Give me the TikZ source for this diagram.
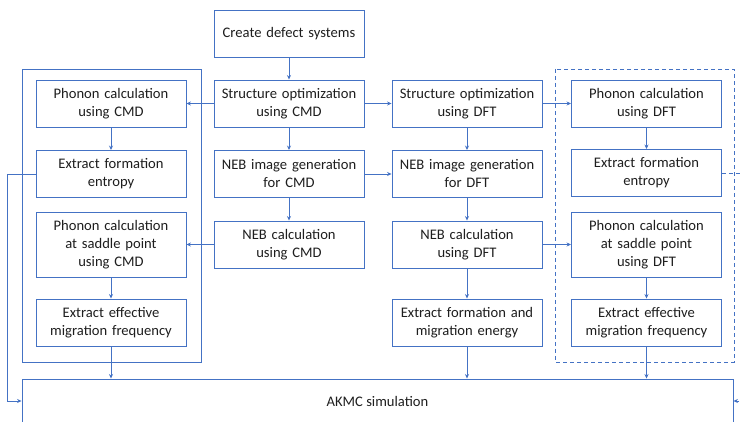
\documentclass[tikz,border=0pt]{standalone}
\usepackage{fontspec}
\setmainfont{Carlito}
\usepackage{tikz}
\usepackage{xcolor}
\usetikzlibrary{arrows.meta,calc,positioning}
\definecolor{wfBlue}{RGB}{68,114,196}
\definecolor{wfInk}{RGB}{30,30,30}
\begin{document}
\begin{tikzpicture}[x=1pt,y=-1pt,
  stepbox/.style={draw=wfBlue,line width=0.9pt,fill=white,text=wfInk,
    minimum width=150pt,minimum height=47pt,inner sep=0pt,
    text width=148pt,align=center,
    font=\fontsize{14.6}{18}\selectfont},
  tallbox/.style={stepbox,minimum height=65pt},
  link/.style={draw=wfBlue,line width=0.75pt,-{Stealth[length=4.5pt,width=4pt]}},
  group/.style={draw=wfBlue,line width=0.9pt}]
  \clip (0,0) rectangle (740,422);
  \draw[group] (22,69) rectangle (201,362);
  \draw[group,dashed,dash pattern=on 4pt off 3pt] (555,69) rectangle (734,362);
  \node[stepbox] (create) at (289,33.5) {Create defect systems};
  \node[stepbox] (scmd) at (289,103.5) {Structure optimization\\using CMD};
  \node[stepbox] (sdft) at (467,103.5) {Structure optimization\\using DFT};
  \node[stepbox] (ngcmd) at (289,174) {NEB image generation\\for CMD};
  \node[stepbox] (ngdft) at (467,174) {NEB image generation\\for DFT};
  \node[stepbox] (nccmd) at (289,244.5) {NEB calculation\\using CMD};
  \node[stepbox] (ncdft) at (467,244.5) {NEB calculation\\using DFT};
  \node[stepbox] (efm) at (467,322.5) {Extract formation and\\migration energy};
  \node[stepbox] (pcmd) at (111,103.5) {Phonon calculation\\using CMD};
  \node[stepbox] (ecmd) at (111,174) {Extract formation\\entropy};
  \node[tallbox] (spcmd) at (111,244.5) {Phonon calculation\\at saddle point\\using CMD};
  \node[stepbox] (mcmd) at (111,322.5) {Extract effective\\migration frequency};
  \node[stepbox] (pdft) at (646.5,103.5) {Phonon calculation\\using DFT};
  \node[stepbox] (edft) at (646.5,173) {Extract formation\\entropy};
  \node[tallbox] (spdft) at (646.5,244.5) {Phonon calculation\\at saddle point\\using DFT};
  \node[stepbox] (mdft) at (646.5,322.5) {Extract effective\\migration frequency};
  \node[draw=wfBlue,line width=0.9pt,minimum width=711pt,minimum height=64pt,
    inner sep=0pt] (akmc) at (377.5,411) {};
  \node[text=wfInk,font=\fontsize{14.6}{18}\selectfont] (akmctext) at (377.5,401) {AKMC simulation};
  \coordinate (lout) at (7,174);
  \coordinate (lin) at (7,401);
  \coordinate (rout) at (746,173);
  \coordinate (rin) at (746,401);
  \draw[link] (create) -- (scmd);
  \draw[link] (scmd.west) -- (scmd.west -| pcmd.east);
  \draw[link] (scmd) -- (sdft);
  \draw[link] (scmd) -- (ngcmd);
  \draw[link] (sdft) -- (ngdft);
  \draw[link] (sdft.east) -- (sdft.east -| pdft.west);
  \draw[link] (ngcmd) -- (ngdft);
  \draw[link] (ngcmd) -- (nccmd);
  \draw[link] (ngdft) -- (ncdft);
  \draw[link] (nccmd.west) -- (nccmd.west -| spcmd.east);
  \draw[link] (ncdft.east) -- (ncdft.east -| spdft.west);
  \draw[link] (ncdft) -- (efm);
  \draw[link] (pcmd) -- (ecmd);
  \draw[link] (spcmd) -- (mcmd);
  \draw[link] (pdft) -- (edft);
  \draw[link] (spdft) -- (mdft);
  \draw[link] (mcmd.south) -- (mcmd.south |- akmc.north);
  \draw[link] (efm.south) -- (efm.south |- akmc.north);
  \draw[link] (mdft.south) -- (mdft.south |- akmc.north);
  \draw[link] (ecmd.west) -- (lout) -- (lin) -- (lin -| akmc.west);
  \draw[link,dashed,dash pattern=on 4pt off 3pt] (edft.east) -- (rout) -- (rin) -- (rin -| akmc.east);
\end{tikzpicture}
\end{document}
